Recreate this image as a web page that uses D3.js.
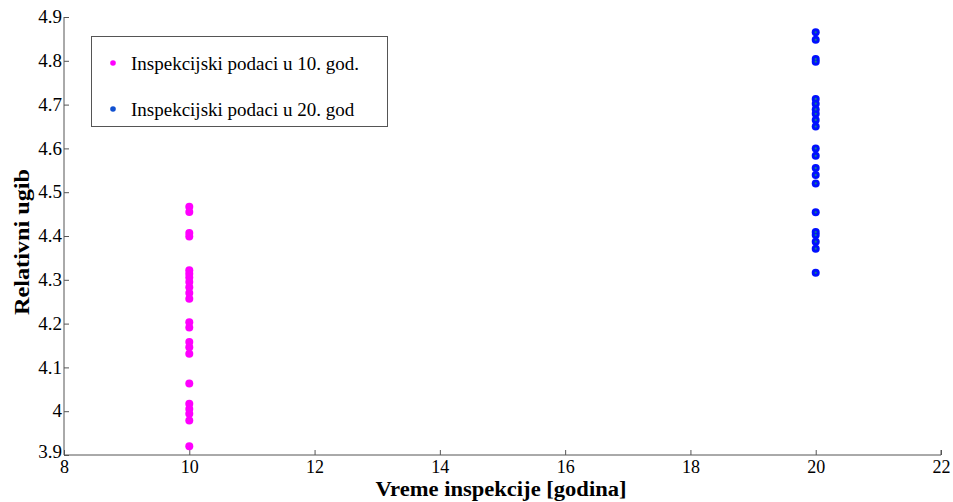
<!DOCTYPE html>
<html>
<head>
<meta charset="utf-8">
<script src="https://cdn.jsdelivr.net/npm/d3@7"></script>
<style>
  body { margin: 0; background: #fff; }
  svg { display: block; }
</style>
</head>
<body>
<svg id="chart" width="953" height="502" font-family="Liberation Serif, serif"></svg>
<script>
// Data
const seriesNames = ["Inspekcijski podaci u 10. god.", "Inspekcijski podaci u 20. god"];
const year10 = 10;
const year20 = 20;
const values10 = [4.467, 4.455, 4.407, 4.399, 4.322, 4.314, 4.305, 4.295, 4.283, 4.270, 4.257,
                  4.203, 4.191, 4.158, 4.146, 4.131, 4.063, 4.017, 4.005, 3.994, 3.979, 3.920];
const values20 = [4.865, 4.848, 4.804, 4.798, 4.713, 4.702, 4.689, 4.679, 4.665, 4.650, 4.600,
                  4.583, 4.555, 4.539, 4.520, 4.454, 4.409, 4.402, 4.387, 4.371, 4.316];
const xTicks = [8, 10, 12, 14, 16, 18, 20, 22];
const yTicks = [3.9, 4, 4.1, 4.2, 4.3, 4.4, 4.5, 4.6, 4.7, 4.8, 4.9];

const FONT = "Liberation Serif";
const svg = d3.select("#chart");
const mLeft = 64, mRight = 941, mTop = 17, mBottom = 455;

const x = d3.scaleLinear().domain([8, 22]).range([mLeft, mRight]);
const y = d3.scaleLinear().domain([3.9, 4.9]).range([mBottom, mTop]);

// Axes
const xAxis = d3.axisBottom(x).tickValues(xTicks).tickSize(-5).tickPadding(7).tickFormat(d3.format("d"));
const yAxis = d3.axisLeft(y).tickValues(yTicks).tickSize(-5).tickPadding(2).tickFormat(d => String(+d.toFixed(1)));

const gx = svg.append("g").attr("transform", `translate(0,${mBottom})`).call(xAxis);
const gy = svg.append("g").attr("transform", `translate(${mLeft},0)`).call(yAxis);

[gx, gy].forEach(g => {
  g.attr("font-family", FONT).attr("font-size", 19);
  g.select(".domain").attr("stroke", "#555").attr("stroke-width", 1);
  g.selectAll(".tick line").attr("stroke", "#555");
  g.selectAll(".tick text").attr("fill", "#000");
});
gx.attr("font-size", 18);
gx.select(".domain").attr("d", `M${mLeft},0H${mRight}V-5`);
gy.select(".domain").attr("d", `M0,${mTop}V${mBottom}`);
gx.selectAll(".tick text").attr("dy", "0.6em");
gy.selectAll(".tick text").attr("dy", d => d === 3.9 ? "0.12em" : "0.3em");

// Points
const g10 = svg.append("g");
g10.selectAll("circle").data(values10).join("circle")
  .attr("cx", x(year10)).attr("cy", d => y(d)).attr("r", 4)
  .attr("fill", "#ff00ff");

const g20 = svg.append("g");
g20.selectAll("circle.o").data(values20).join("circle")
  .attr("class", "o")
  .attr("cx", x(year20)).attr("cy", d => y(d)).attr("r", 4)
  .attr("fill", "#0010ff");
g20.selectAll("circle.c").data(values20).join("circle")
  .attr("class", "c")
  .attr("cx", x(year20)).attr("cy", d => y(d)).attr("r", 1.1)
  .attr("fill", "#10808a");

// Legend
const lg = svg.append("g").attr("font-family", FONT);
lg.append("rect").attr("x", 91.5).attr("y", 36.5).attr("width", 296).attr("height", 90)
  .attr("fill", "#fff").attr("stroke", "#555").attr("stroke-width", 1);
const legendColors = ["#ff00ff", "#1050d0"];
seriesNames.forEach((name, i) => {
  const cy = 63 + i * 46;
  lg.append("circle").attr("cx", 113).attr("cy", cy).attr("r", 2.8).attr("fill", legendColors[i]);
  lg.append("text").attr("x", 131).attr("y", cy).attr("dy", "0.35em")
    .attr("font-size", 19).attr("fill", "#000").text(name);
});

// Axis titles
svg.append("text").attr("x", 501).attr("y", 496)
  .attr("font-family", FONT)
  .attr("text-anchor", "middle").attr("font-size", 20).attr("font-weight", "bold")
  .attr("textLength", 251).attr("lengthAdjust", "spacingAndGlyphs")
  .text("Vreme inspekcije [godina]");
svg.append("text").attr("transform", `translate(29,242) rotate(-90)`)
  .attr("font-family", FONT)
  .attr("text-anchor", "middle").attr("font-size", 21).attr("font-weight", "bold")
  .attr("textLength", 146).attr("lengthAdjust", "spacingAndGlyphs")
  .text("Relativni ugib");
</script>
</body>
</html>
